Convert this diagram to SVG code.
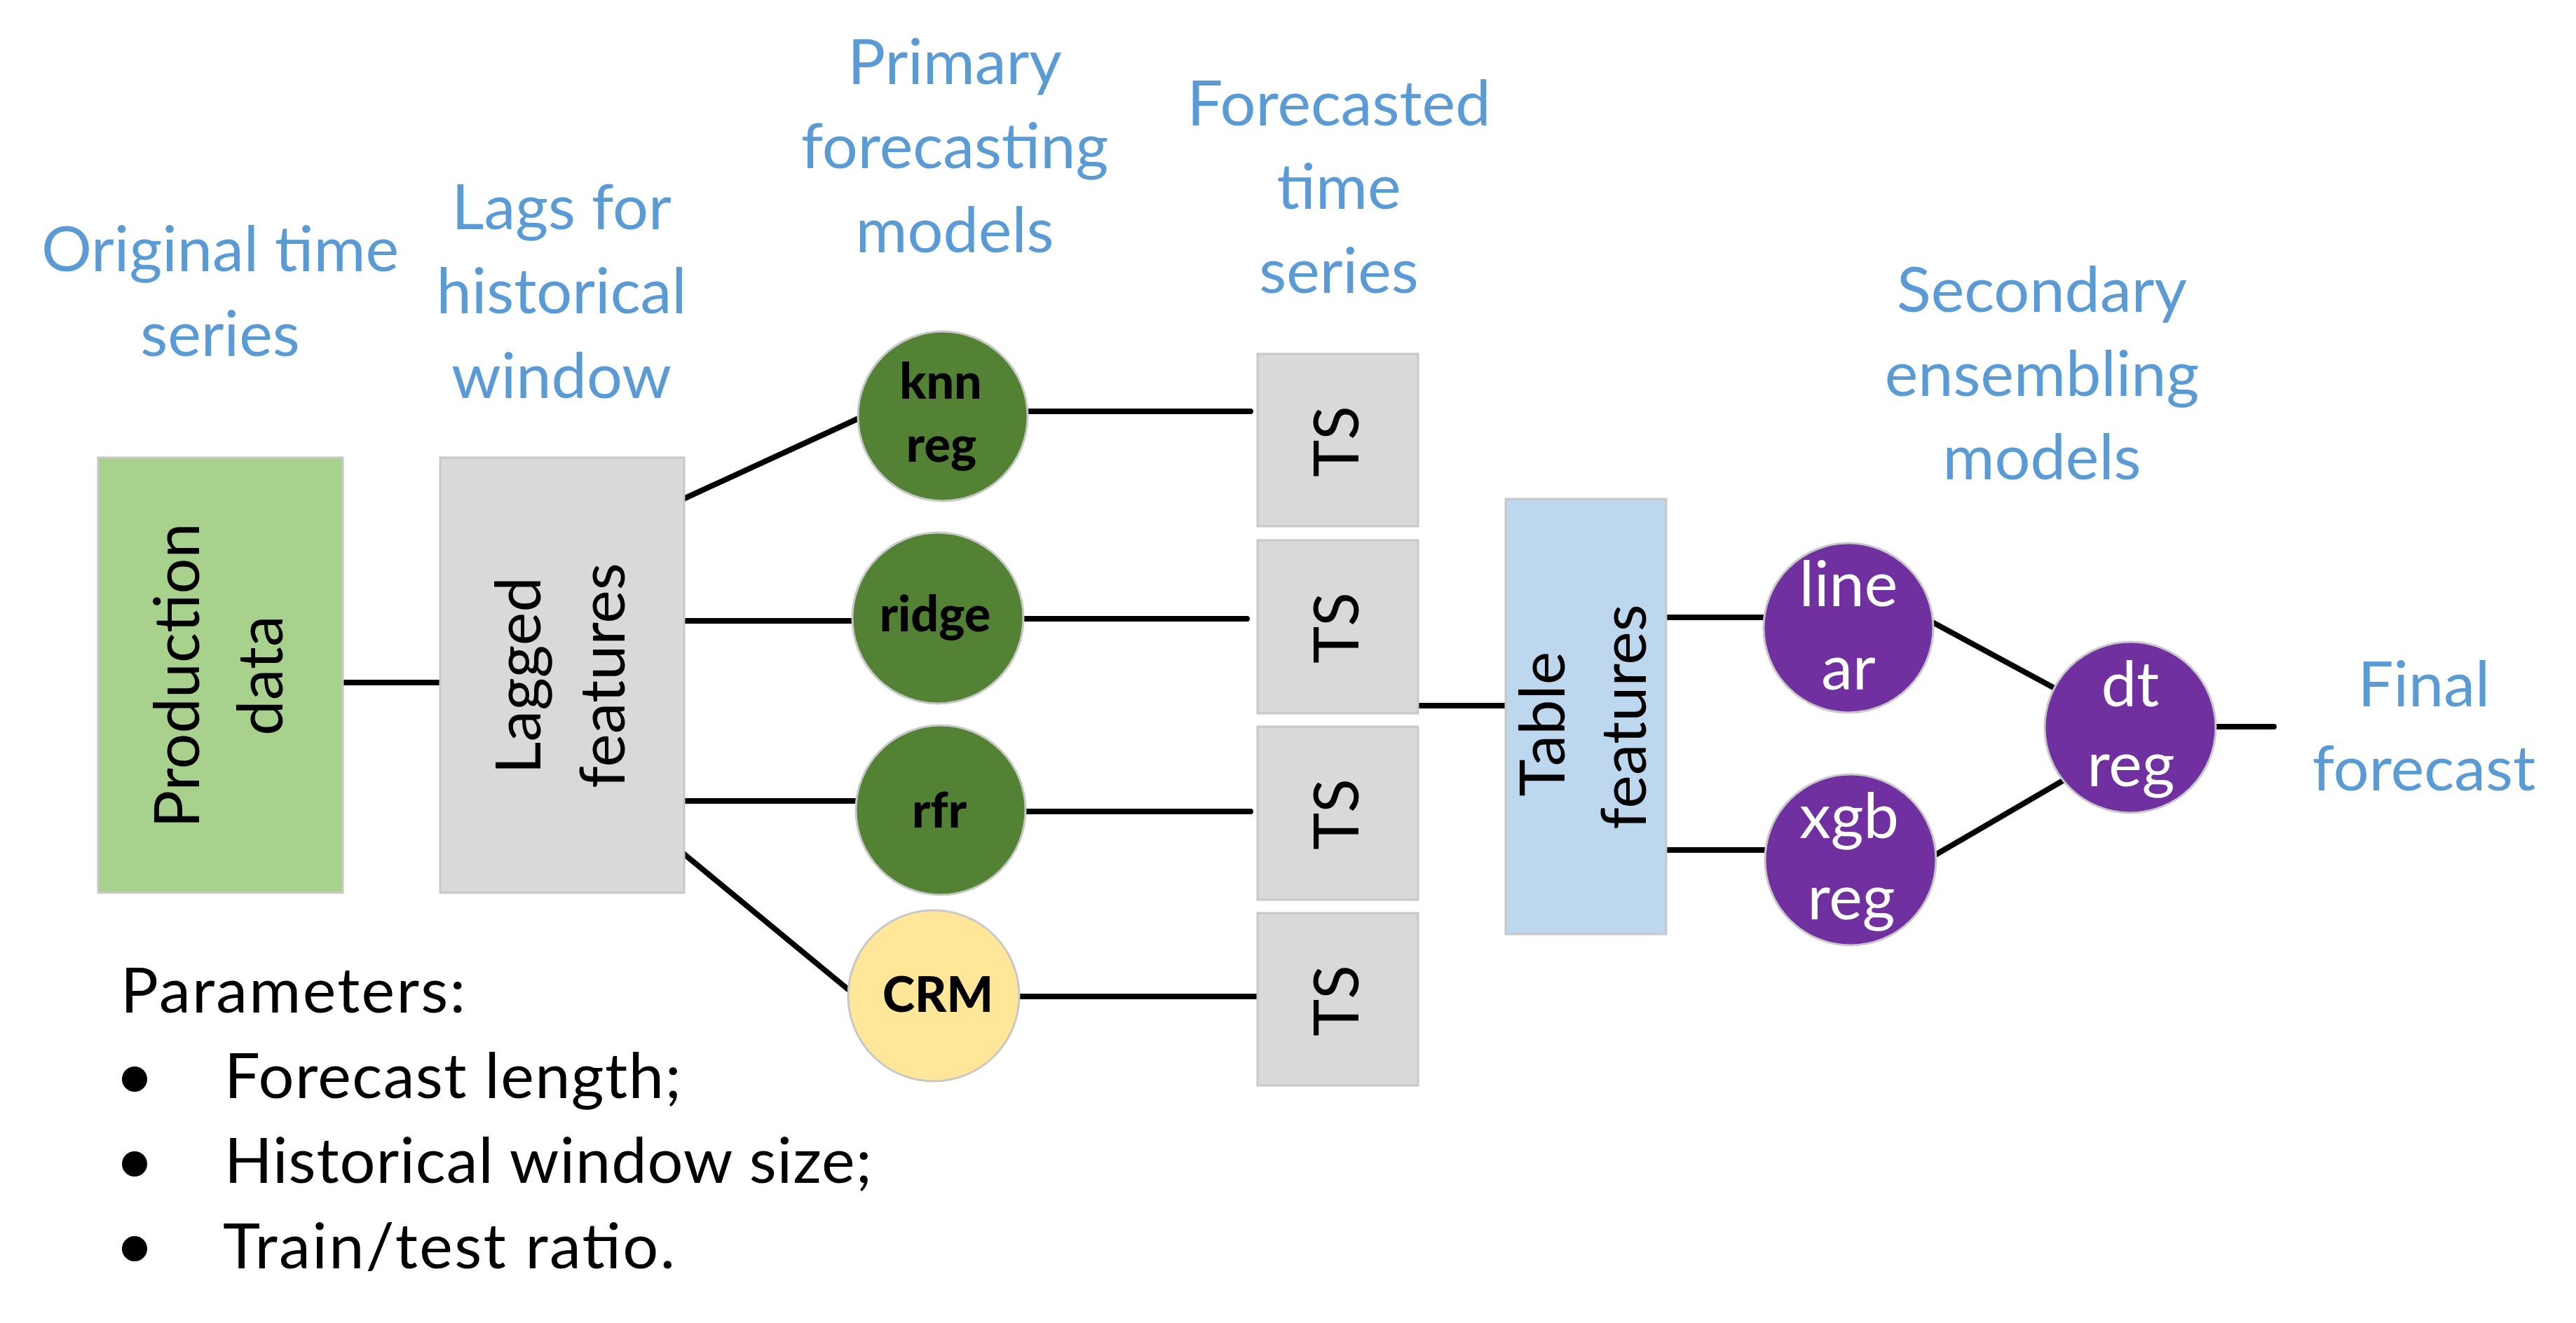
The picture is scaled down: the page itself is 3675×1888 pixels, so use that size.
<svg xmlns="http://www.w3.org/2000/svg" width="3675" height="1888" viewBox="0 0 3675 1888">
<style>
.hdr{font-family:Lato,"Open Sans","Liberation Sans",sans-serif;font-size:90px;fill:#5B9BD5;text-anchor:middle}
.box{stroke:#C8C8C8;stroke-width:3}
.rot{font-family:Lato,"Open Sans","Liberation Sans",sans-serif;font-size:90px;fill:#000;text-anchor:middle}
.circ{stroke:#C8C8C8;stroke-width:3}
.bl{font-family:Lato,"Open Sans","Liberation Sans",sans-serif;font-size:70px;font-weight:900;fill:#000;text-anchor:middle}
.wl{font-family:Lato,"Open Sans","Liberation Sans",sans-serif;font-size:90px;fill:#fff;text-anchor:middle}
.par{font-family:Lato,"Open Sans","Liberation Sans",sans-serif;font-size:90px;fill:#000}
.conn line{stroke:#000;stroke-width:8;stroke-linecap:round}
</style>
<rect width="3675" height="1888" fill="#fff"/>

<g id="headers">
<text class="hdr" x="314" y="387">Original time</text>
<text class="hdr" x="314" y="508">series</text>
<text class="hdr" x="801" y="327">Lags for</text>
<text class="hdr" x="801" y="447">historical</text>
<text class="hdr" x="801" y="568">window</text>
<text class="hdr" x="1362" y="120">Primary</text>
<text class="hdr" x="1362" y="240">forecasting</text>
<text class="hdr" x="1362" y="360">models</text>
<text class="hdr" x="1910" y="179">Forecasted</text>
<text class="hdr" x="1910" y="298">time</text>
<text class="hdr" x="1910" y="418">series</text>
<text class="hdr" x="2913" y="445">Secondary</text>
<text class="hdr" x="2913" y="565">ensembling</text>
<text class="hdr" x="2913" y="684">models</text>
<text class="hdr" x="3458" y="1008">Final</text>
<text class="hdr" x="3458" y="1128">forecast</text>
</g>

<g class="conn" id="connectors">
<line x1="487" y1="974" x2="637" y2="974"/>
<line x1="975" y1="712" x2="1225" y2="597"/>
<line x1="975" y1="886" x2="1218" y2="886"/>
<line x1="975" y1="1143" x2="1221" y2="1143"/>
<line x1="975" y1="1218" x2="1210" y2="1412"/>
<line x1="1465" y1="587" x2="1784" y2="587"/>
<line x1="1458" y1="883" x2="1779" y2="883"/>
<line x1="1463" y1="1158" x2="1784" y2="1158"/>
<line x1="1454" y1="1422" x2="1794" y2="1422"/>
<line x1="2025" y1="1007" x2="2148" y2="1007"/>
<line x1="2377" y1="881" x2="2515" y2="881"/>
<line x1="2377" y1="1213" x2="2517" y2="1213"/>
<line x1="2757" y1="888" x2="2931" y2="982"/>
<line x1="2761" y1="1220" x2="2943" y2="1114"/>
<line x1="3160" y1="1037" x2="3244" y2="1037"/>
</g>

<g id="production">
<rect class="box" x="140" y="653" width="349" height="621" fill="#A9D18E"/>
<text class="rot" transform="translate(284,964) rotate(-90)">Production</text>
<text class="rot" transform="translate(403,964) rotate(-90)">data</text>
</g>

<g id="lagged">
<rect class="box" x="628" y="653" width="348" height="621" fill="#D9D9D9"/>
<text class="rot" transform="translate(771,964) rotate(-90)">Lagged</text>
<text class="rot" transform="translate(891,964) rotate(-90)">features</text>
</g>

<g id="knn">
<circle class="circ" cx="1345" cy="594" r="121" fill="#548235"/>
<text class="bl" x="1342" y="569">knn</text>
<text class="bl" x="1343" y="659">reg</text>
</g>
<g id="ridge">
<circle class="circ" cx="1338" cy="882" r="122" fill="#548235"/>
<text class="bl" x="1334" y="901">ridge</text>
</g>
<g id="rfr">
<circle class="circ" cx="1342" cy="1156" r="121" fill="#548235"/>
<text class="bl" x="1340" y="1181">rfr</text>
</g>
<g id="crm">
<circle class="circ" cx="1332" cy="1421" r="122" fill="#FFE699"/>
<text class="bl" x="1338" y="1444">CRM</text>
</g>

<g id="ts1">
<rect class="box" x="1794" y="505" width="229" height="246" fill="#D9D9D9"/>
<text class="rot" transform="translate(1938,630) rotate(-90)">TS</text>
</g>
<g id="ts2">
<rect class="box" x="1794" y="771" width="229" height="247" fill="#D9D9D9"/>
<text class="rot" transform="translate(1938,896) rotate(-90)">TS</text>
</g>
<g id="ts3">
<rect class="box" x="1794" y="1037" width="229" height="247" fill="#D9D9D9"/>
<text class="rot" transform="translate(1938,1162) rotate(-90)">TS</text>
</g>
<g id="ts4">
<rect class="box" x="1794" y="1303" width="229" height="246" fill="#D9D9D9"/>
<text class="rot" transform="translate(1938,1428) rotate(-90)">TS</text>
</g>

<g id="table">
<rect class="box" x="2148" y="712" width="229" height="621" fill="#BDD7EE"/>
<text class="rot" transform="translate(2232,1033) rotate(-90)">Table</text>
<text class="rot" transform="translate(2348,1023) rotate(-90)">features</text>
</g>

<g id="linear">
<circle class="circ" cx="2637" cy="896" r="121" fill="#7030A0"/>
<text class="wl" x="2637" y="865">line</text>
<text class="wl" x="2637" y="984">ar</text>
</g>
<g id="xgb">
<circle class="circ" cx="2640" cy="1227" r="122" fill="#7030A0"/>
<text class="wl" x="2638" y="1196">xgb</text>
<text class="wl" x="2641" y="1312">reg</text>
</g>
<g id="dt">
<circle class="circ" cx="3039" cy="1038" r="122" fill="#7030A0"/>
<text class="wl" x="3039" y="1008">dt</text>
<text class="wl" x="3040" y="1122">reg</text>
</g>

<g id="parameters">
<text class="par" x="172" y="1445" textLength="492">Parameters:</text>
<circle cx="192" cy="1540" r="18" fill="#000"/>
<circle cx="192" cy="1661" r="18" fill="#000"/>
<circle cx="192" cy="1782" r="18" fill="#000"/>
<text class="par" x="320" y="1567" textLength="652">Forecast length;</text>
<text class="par" x="320" y="1688" textLength="924">Historical window size;</text>
<text class="par" x="318" y="1810" textLength="645">Train/test ratio.</text>
</g>
</svg>
